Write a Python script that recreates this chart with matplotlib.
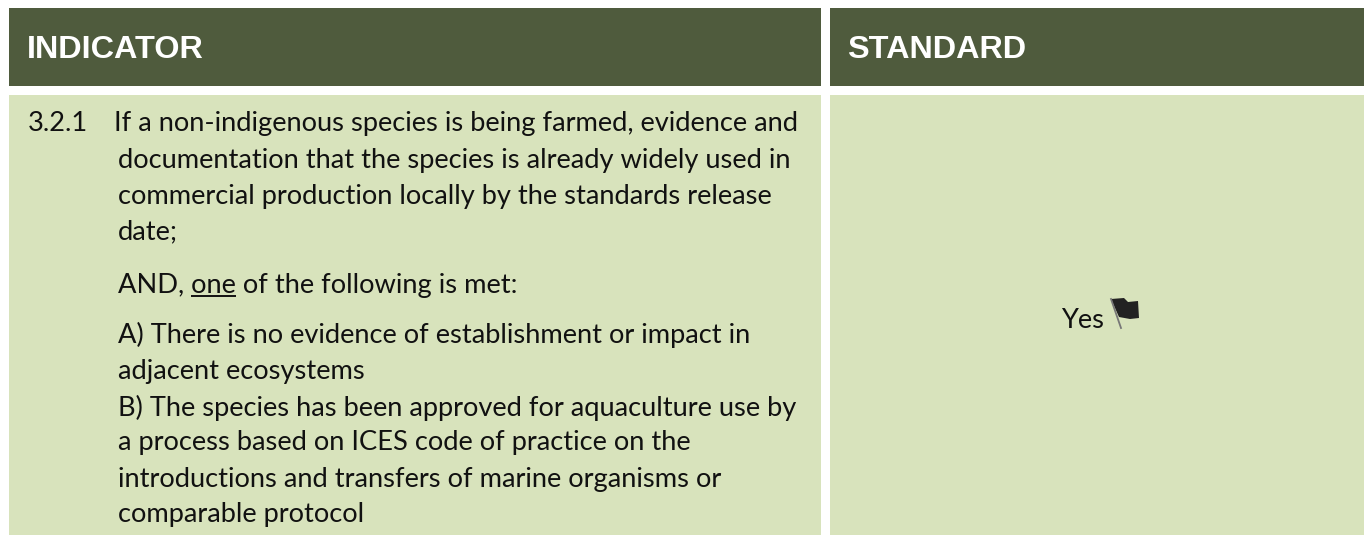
import matplotlib
matplotlib.use("Agg")
import matplotlib.pyplot as plt
from matplotlib.patches import Rectangle, Polygon

W, H = 1364, 535
HEAD = "#4f5b3d"
BODY = "#d8e3bc"
INK = "#111111"
FS = 19.6

headers = ["INDICATOR", "STANDARD"]
header_x = [27, 847]
col_x0 = [9, 830]
col_x1 = [821, 1364]
lines = [
    (28, 131, "3.2.1"),
    (114, 131, "If a non-indigenous species is being farmed, evidence and"),
    (117.5, 168, "documentation that the species is already widely used in"),
    (117.5, 204, "commercial production locally by the standards release"),
    (117.5, 239, "date;"),
    (117.5, 293, "AND, one of the following is met:"),
    (117.5, 343, "A) There is no evidence of establishment or impact in"),
    (117.5, 379, "adjacent ecosystems"),
    (117.5, 416, "B) The species has been approved for aquaculture use by"),
    (117.5, 450, "a process based on ICES code of practice on the"),
    (117.5, 487, "introductions and transfers of marine organisms or"),
    (117.5, 522, "comparable protocol"),
]

fig = plt.figure(figsize=(W / 100, H / 100), dpi=100)
ax = fig.add_axes([0, 0, 1, 1])
ax.set_xlim(0, W)
ax.set_ylim(H, 0)
ax.axis("off")

for x0, x1 in zip(col_x0, col_x1):
    ax.add_patch(Rectangle((x0, 8), x1 - x0, 78, fc=HEAD, ec="none"))
    ax.add_patch(Rectangle((x0, 95), x1 - x0, 440, fc=BODY, ec="none"))
for x, t in zip(header_x, headers):
    ax.text(x, 58, t, color="white", fontsize=23.3, fontweight="bold",
            family="Liberation Sans", va="baseline", ha="left")
for x, y, t in lines:
    ax.text(x, y, t, color=INK, fontsize=FS, family="Lato", va="baseline", ha="left")


def text_width(s):
    probe = ax.text(0, 0, s, fontsize=FS, family="Lato")
    w = probe.get_window_extent(fig.canvas.get_renderer()).width
    probe.remove()
    return w


# underline sits under the word "one", wherever this font puts it
word_w = text_width("one")
u0 = 117.5 + text_width("AND, one") - word_w
ax.plot([u0, u0 + word_w + 1], [296, 296], color=INK, lw=1.4, solid_capstyle="butt")

ax.text(1061, 328, "Yes", color=INK, fontsize=FS, family="Lato", va="baseline", ha="left")

flag = [(1111, 299), (1124, 298), (1128, 302), (1138, 301), (1139, 318), (1130, 319), (1119, 317)]
ax.add_patch(Polygon(flag, closed=True, fc="#222222", ec="none"))
ax.plot([1111, 1121], [299, 328], color="#777777", lw=1.3)

fig.savefig("out.png", dpi=100)
